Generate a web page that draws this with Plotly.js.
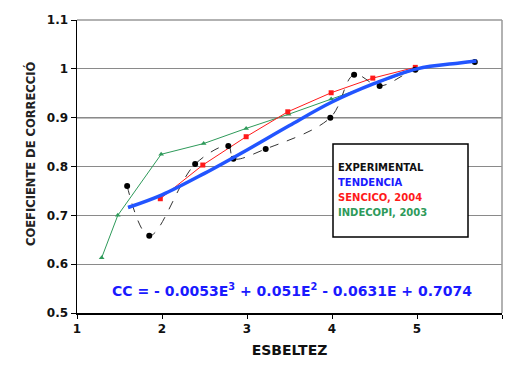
<!DOCTYPE html>
<html><head><meta charset="utf-8">
<script src="https://cdn.plot.ly/plotly-3.0.1.min.js"></script>
<style>html,body{margin:0;padding:0;background:#fff;}#c{width:505px;height:372px;}</style>
</head><body><div id="c"></div>
<script>
// Experimental
const expX = [1.59, 1.85, 2.39, 2.78, 2.84, 3.22, 3.98, 4.26, 4.56, 4.98, 5.68];
const expY = [0.760, 0.658, 0.805, 0.842, 0.816, 0.836, 0.900, 0.988, 0.965, 0.998, 1.014];
// Tendencia
const tenX = [1.6, 2.0, 2.5, 3.0, 3.5, 4.0, 4.5, 5.0, 5.5, 5.7];
const tenY = [0.716, 0.742, 0.786, 0.834, 0.884, 0.932, 0.970, 1.000, 1.012, 1.016];
// SENCICO, 2004
const senX = [1.98, 2.48, 2.99, 3.48, 3.99, 4.48, 4.98];
const senY = [0.734, 0.803, 0.861, 0.912, 0.951, 0.981, 1.003];
// INDECOPI, 2003
const indX = [1.29, 1.48, 1.99, 2.49, 2.99, 3.49, 3.99, 4.99];
const indY = [0.613, 0.700, 0.825, 0.847, 0.878, 0.907, 0.938, 0.999];

const yTicks = [0.5, 0.6, 0.7, 0.8, 0.9, 1.0, 1.1];
const yTickText = ["0.5", "0.6", "0.7", "0.8", "0.9", "1", "1.1"];
const xTicks = [1, 2, 3, 4, 5, 6];
const xTickText = ["1", "2", "3", "4", "5", "6"];

const legendItems = ["EXPERIMENTAL", "TENDENCIA", "SENCICO, 2004", "INDECOPI, 2003"];
const legendColors = ["#111111", "#1a1aff", "#ff1a1a", "#2e9a5a"];

const F = "DejaVu Sans, sans-serif";

const traces = [
  {x: indX, y: indY, mode: "lines+markers", line: {color: "#2e9a5a", width: 1}, marker: {symbol: "triangle-up", size: 5, color: "#2e9a5a"}},
  {x: senX, y: senY, mode: "lines+markers", line: {color: "#ff1a1a", width: 1}, marker: {symbol: "square", size: 5, color: "#ff1a1a"}},
  {x: expX, y: expY, mode: "lines+markers", line: {color: "#333", width: 1, dash: "dash", shape: "spline"}, marker: {symbol: "circle", size: 6, color: "#000"}},
  {x: tenX, y: tenY, mode: "lines", line: {color: "#2255ff", width: 3.5, shape: "spline"}}
];

const annotations = legendItems.map((t, i) => ({
  text: "<b>" + t + "</b>", xref: "paper", yref: "paper",
  x: (336 - 77) / 425, y: (313 - (167 + i * 15)) / 293,
  xanchor: "left", yanchor: "middle", showarrow: false,
  font: {family: F, size: 10, color: legendColors[i]}
}));
annotations.push({
  text: "<b>CC = - 0.0053E<sup>3</sup> + 0.051E<sup>2</sup> - 0.0631E + 0.7074</b>",
  xref: "paper", yref: "paper", x: (292 - 77) / 425, y: (313 - 290) / 293,
  xanchor: "center", yanchor: "middle", showarrow: false,
  font: {family: F, size: 14, color: "#1a1aff"}
});
annotations.push({
  text: "<b>COEFICIENTE DE CORRECCIÓ</b>", xref: "paper", yref: "paper",
  x: (30 - 77) / 425, y: (313 - 154) / 293, textangle: -90,
  xanchor: "center", yanchor: "middle", showarrow: false,
  font: {family: F, size: 11.5, color: "#222"}
});

const layout = {
  width: 505, height: 372,
  margin: {l: 77, r: 3, t: 20, b: 59},
  paper_bgcolor: "#fff", plot_bgcolor: "#fff",
  showlegend: false,
  font: {family: F, color: "#111"},
  xaxis: {
    range: [1, 6], tickvals: xTicks, ticktext: xTickText.map(t => "<b>" + t + "</b>"),
    ticks: "outside", ticklen: 4, tickcolor: "#000",
    showline: true, linecolor: "#000", linewidth: 1.5, mirror: false,
    showgrid: false, zeroline: false,
    tickfont: {family: F, size: 12, color: "#111", weight: "bold"},
    title: {text: "<b>ESBELTEZ</b>", font: {family: F, size: 14, color: "#111"}, standoff: 10}
  },
  yaxis: {
    range: [0.5, 1.1], tickvals: yTicks, ticktext: yTickText.map(t => "<b>" + t + "</b>"),
    ticks: "outside", ticklen: 5, tickcolor: "#000",
    showline: true, linecolor: "#000", linewidth: 1.5,
    showgrid: true, gridcolor: "#8a8a8a", gridwidth: 1, zeroline: false,
    tickfont: {family: F, size: 12, color: "#111", weight: "bold"}
  },
  shapes: [
    {type: "line", xref: "paper", yref: "paper", x0: 0, x1: 1, y0: 1, y1: 1, line: {color: "#999", width: 1.5}},
    {type: "line", xref: "paper", yref: "paper", x0: 1, x1: 1, y0: 0, y1: 1, line: {color: "#999", width: 1.5}},
    {type: "line", xref: "paper", yref: "y", x0: 0, x1: 1, y0: 0.9, y1: 0.9, line: {color: "#000", width: 1.3}, layer: "below"},
    {type: "rect", xref: "paper", yref: "paper",
     x0: (333 - 77) / 425, x1: (468 - 77) / 425, y0: (313 - 237) / 293, y1: (313 - 144) / 293,
     line: {color: "#000", width: 1.5}, fillcolor: "#fff", layer: "above"}
  ],
  annotations: annotations
};

Plotly.newPlot("c", traces, layout, {displayModeBar: false, staticPlot: true});
</script>
</body></html>
